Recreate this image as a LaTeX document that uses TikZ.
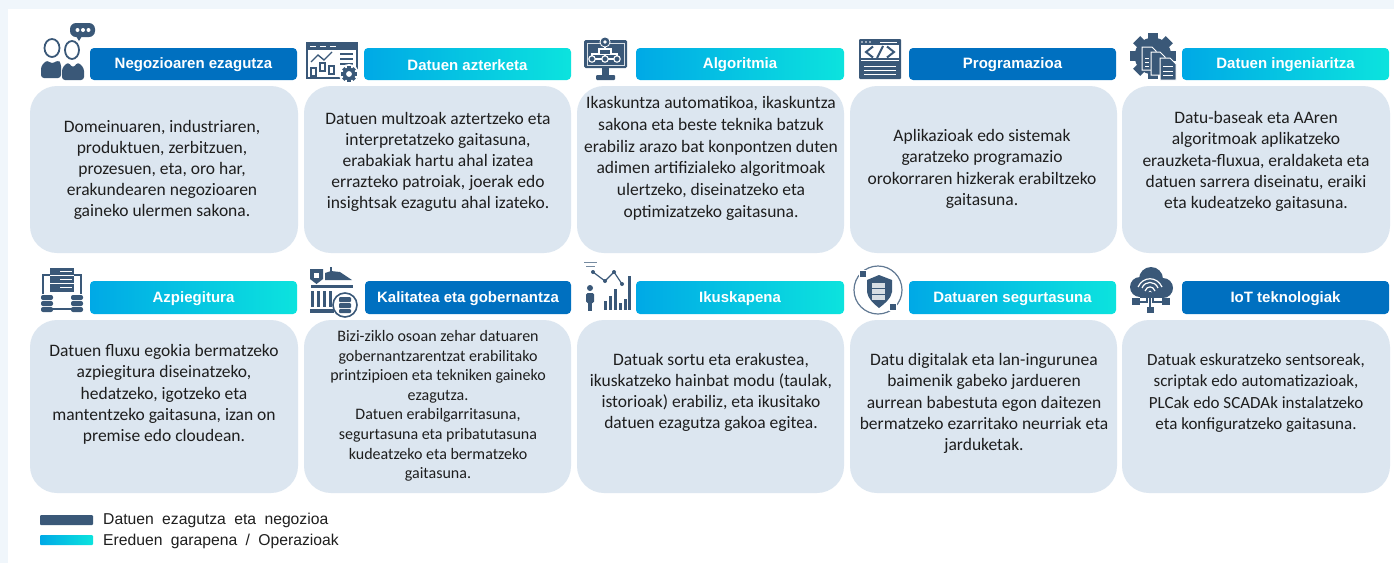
\documentclass[tikz,border=0pt]{standalone}
\usepackage{fontspec}
\setmainfont{Carlito}
\newfontfamily\hdfont{Liberation Sans}
\newcommand{\legsp}{\spaceskip=8.4pt\relax}
\definecolor{bgc}{HTML}{F0F6FB}
\definecolor{cardc}{HTML}{DCE6F0}
\definecolor{bluec}{HTML}{0070C0}
\definecolor{gradl}{HTML}{00A9E6}
\definecolor{gradr}{HTML}{0CE3DE}
\definecolor{ic}{HTML}{3A5878}
\definecolor{txtc}{HTML}{1E1E1E}
\tikzset{
  x=1pt,y=-1pt,
  cardbox/.style={fill=cardc,rounded corners=27pt},
  cardtext/.style={text=txtc,align=center,inner sep=0pt,font=\fontsize{17.5}{21.2}\selectfont},
  headsolid/.style={fill=bluec,rounded corners=4pt},
  headgrad/.style={left color=gradl,right color=gradr,rounded corners=4pt},
  legendtext/.style={anchor=west,text=txtc,inner sep=0pt,font=\hdfont\fontsize{15.7}{17}\selectfont},
}
% #1 node name, #2 x0, #3 y0, #4 x1, #5 y1, #6 style, #7 text
\newcommand{\headbox}[7]{%
  \path[#6] (#2,#3) rectangle (#4,#5);
  \node[text=white,inner sep=0pt,font=\hdfont\bfseries\fontsize{15}{16}\selectfont] (#1) at ({(#2+#4)/2},{(#3+#5)/2+1}) {#7};
}
% #1 cx #2 cy #3 outer radius #4 hole colour
\newcommand{\gearicon}[4]{%
  \foreach \a in {0,45,...,315}{\fill[ic,rotate around={\a:(#1,#2)}] ({#1-0.22*#3},#2) rectangle ({#1+0.22*#3},{#2-#3});}
  \fill[ic] (#1,#2) circle[radius={0.8*#3}];
  \fill[#4] (#1,#2) circle[radius={0.36*#3}];
}
\begin{document}
\begin{tikzpicture}
\useasboundingbox (0,0) rectangle (1394,563);
\fill[bgc] (0,0) rectangle (1394,563);
\fill[white] (8,9) rectangle (1394,563);

% cards row 1
\fill[cardbox] (30,86) rectangle (298,253);
\fill[cardbox] (304,86) rectangle (571,253);
\fill[cardbox] (577,86) rectangle (844,253);
\fill[cardbox] (850,86) rectangle (1117,253);
\fill[cardbox] (1122,86) rectangle (1390,253);
% cards row 2
\fill[cardbox] (30,320) rectangle (298,493);
\fill[cardbox] (304,320) rectangle (571,493);
\fill[cardbox] (577,320) rectangle (844,493);
\fill[cardbox] (850,320) rectangle (1117,493);
\fill[cardbox] (1122,320) rectangle (1390,493);

% card texts
\node[cardtext] (t1) at (162,170) {Domeinuaren, industriaren,\\produktuen, zerbitzuen,\\prozesuen, eta, oro har,\\erakundearen negozioaren\\gaineko ulermen sakona.};
\node[cardtext] (t2) at (438,162) {Datuen multzoak aztertzeko eta\\interpretatzeko gaitasuna,\\erabakiak hartu ahal izatea\\errazteko patroiak, joerak edo\\insightsak ezagutu ahal izateko.};
\node[cardtext,font=\fontsize{17.5}{21.8}\selectfont] (t3) at (711,158.5) {Ikaskuntza automatikoa, ikaskuntza\\sakona eta beste teknika batzuk\\erabiliz arazo bat konpontzen duten\\adimen artifizialeko algoritmoak\\ulertzeko, diseinatzeko eta\\optimizatzeko gaitasuna.};
\node[cardtext] (t4) at (982,169) {Aplikazioak edo sistemak\\garatzeko programazio\\orokorraren hizkerak erabiltzeko\\gaitasuna.};
\node[cardtext] (t5) at (1256,161.5) {Datu-baseak eta AAren\\algoritmoak aplikatzeko\\erauzketa-fluxua, eraldaketa eta\\datuen sarrera diseinatu, eraiki\\eta kudeatzeko gaitasuna.};
\node[cardtext] (t6) at (164,394.5) {Datuen fluxu egokia bermatzeko\\azpiegitura diseinatzeko,\\hedatzeko, igotzeko eta\\mantentzeko gaitasuna, izan on\\premise edo cloudean.};
\node[cardtext,font=\fontsize{16}{19.6}\selectfont] (t7) at (438,406) {Bizi-ziklo osoan zehar datuaren\\gobernantzarentzat erabilitako\\printzipioen eta tekniken gaineko\\ezagutza.\\Datuen erabilgarritasuna,\\segurtasuna eta pribatutasuna\\kudeatzeko eta bermatzeko\\gaitasuna.};
\node[cardtext] (t8) at (711,392.5) {Datuak sortu eta erakustea,\\ikuskatzeko hainbat modu (taulak,\\istorioak) erabiliz, eta ikusitako\\datuen ezagutza gakoa egitea.};
\node[cardtext] (t9) at (984,403.5) {Datu digitalak eta lan-ingurunea\\baimenik gabeko jardueren\\aurrean babestuta egon daitezen\\bermatzeko ezarritako neurriak eta\\jarduketak.};
\node[cardtext,font=\fontsize{17}{21.2}\selectfont] (t10) at (1256,393) {Datuak eskuratzeko sentsoreak,\\scriptak edo automatizazioak,\\PLCak edo SCADAk instalatzeko\\eta konfiguratzeko gaitasuna.};

% headers row 1
\headbox{h1}{90}{48}{297}{80}{headsolid}{Negozioaren ezagutza}
\headbox{h2}{364}{48}{571}{80}{headgrad}{Datuen azterketa}
\headbox{h3}{636}{48}{844}{80}{headgrad}{Algoritmia}
\headbox{h4}{909}{48}{1116}{80}{headsolid}{Programazioa}
\headbox{h5}{1182}{48}{1389}{80}{headgrad}{\raisebox{2pt}{Datuen ingeniaritza}}
% headers row 2
\headbox{h6}{90}{281}{297}{314}{headgrad}{Azpiegitura}
\headbox{h7}{365}{281}{571}{314}{headsolid}{Kalitatea eta gobernantza}
\headbox{h8}{636}{281}{844}{314}{headgrad}{Ikuskapena}
\headbox{h9}{909}{281}{1116}{314}{headgrad}{Datuaren segurtasuna}
\headbox{h10}{1182}{281}{1389}{314}{headsolid}{IoT teknologiak}

% icon 1: two people and speech bubble
\fill[ic,rounded corners=6pt] (70,23) rectangle (95,37);
\fill[ic] (76,36) -- (82,36) -- (79,41) -- cycle;
\foreach \dx in {77.5,83,88.5}{\fill[white] (\dx,30) circle[radius=2];}
\draw[ic,line width=1.8pt] (52,48) ellipse[x radius=7.5,y radius=9];
\draw[ic,line width=1.8pt] (72,50) ellipse[x radius=7,y radius=9];
\fill[ic,rounded corners=3pt] (41,78) -- (41,66) -- (47,60) -- (52,64) -- (58,60) -- (61,63) -- (61,78) -- cycle;
\fill[ic,rounded corners=3pt] (62,80) -- (62,68) -- (68,62) -- (73,68) -- (78,62) -- (84,68) -- (84,80) -- cycle;

% icon 2: analytics window with gear
\draw[ic,line width=1.4pt] (307,43) rectangle (357,78);
\fill[ic] (306,42) rectangle (358,50);
\foreach \dx in {310,320,330}{\draw[white,line width=.9pt] (\dx,46) -- ++(6,0);}
\draw[ic,line width=1.4pt] (311,62) -- (318,55) -- (324,60) -- (332,52);
\foreach \bx/\by in {311/68,320/63,329/66}{\draw[ic,line width=1.6pt] (\bx,\by) rectangle ++(5,8);}
\foreach \ly in {54,59,64}{\draw[ic,line width=1.4pt] (340,\ly) -- ++(13,0);}
\fill[white] (349,74) circle[radius=10];
\gearicon{349}{74}{8}{white}

% icon 3: monitor with network
\fill[ic,rounded corners=1.5pt] (584,40) rectangle (627,68);
\draw[white!80!ic,line width=.8pt] (587,43) rectangle (624,65);
\fill[ic] (602,68) rectangle (609,75);
\fill[ic,rounded corners=1pt] (596,75) rectangle (615,80);
\fill[white] (605,42) circle[radius=5.5];
\fill[ic] (605,42) circle[radius=4.5];
\fill[white] (605,42) circle[radius=1.8];
\draw[white,line width=1.1pt] (592,59) -- (592,54) -- (617,54) -- (617,59) (605,47) -- (605,59) (592,59) -- (617,59);
\foreach \nx in {592,605,617}{\filldraw[draw=white,fill=ic,line width=1.1pt] (\nx,59) circle[radius=3.2];}
\filldraw[draw=white,fill=ic,line width=1.1pt] (599,49) rectangle (611,54.5);

% icon 4: code window
\fill[ic,rounded corners=1pt] (859,39) rectangle (901,79);
\fill[white] (861,45) rectangle (899,77);
\fill[ic] (861,58) rectangle (899,77);
\draw[white,line width=.9pt] (880,42) -- (897,42);
\foreach \dx in {862,866,870}{\fill[white] (\dx,42) circle[radius=.8];}
\draw[ic,line width=2pt] (873,46.5) -- (866,52) -- (873,57.5) (887,46.5) -- (894,52) -- (887,57.5) (883,46) -- (877,58);
\fill[white] (861,60) rectangle (899,61.2);
\foreach \ly in {66,70,74}{\draw[white,line width=1pt] (864,\ly) -- (896,\ly);}

% icon 5: gear with documents
\gearicon{1153}{56}{23}{ic}
\filldraw[draw=white,fill=ic,line width=1pt] (1142,47) -- (1152,47) -- (1156,51) -- (1156,70) -- (1142,70) -- cycle;
\filldraw[draw=white,fill=ic,line width=1pt] (1151,52) -- (1160,52) -- (1165,57) -- (1165,75) -- (1151,75) -- cycle;
\filldraw[draw=white,fill=ic,line width=1pt] (1160,58) -- (1170,58) -- (1176,64) -- (1176,80) -- (1160,80) -- cycle;
\foreach \ly in {58,62,66}{\draw[white,line width=.8pt] (1145,\ly) -- (1149,\ly);}
\foreach \ly in {66,71,75}{\draw[white,line width=1pt] (1163,\ly) -- (1173,\ly);}

% icon 6: server with databases
\fill[ic] (50,268) rectangle (74,292);
\foreach \ly in {275.5,283.5}{\draw[white,line width=1.2pt] (50,\ly) -- (74,\ly);}
\foreach \ly in {271.5,279.5,287.5}{\draw[white,line width=1pt] (60,\ly) -- (72,\ly);}
\draw[ic,line width=1.2pt] (50,275) -- (43,275) -- (43,294) (74,275) -- (81,275) -- (81,294) (52,309) -- (72,309);
\foreach \dbx in {41,71}{
  \foreach \dby in {295,301,307}{\fill[ic,rounded corners=2pt] (\dbx,\dby) rectangle ++(12,5);}
}

% icon 7: institution and shield
\fill[ic] (310,269) -- (323,269) -- (323,279) -- (316.5,284) -- (310,279) -- cycle;
\fill[white] (314,273) rectangle (319,278);
\fill[ic] (325,280) -- (325,273) -- (331,271) -- (340,272) -- (352,280) -- cycle;
\draw[ic,line width=1.4pt] (331,267) -- (331,272);
\fill[ic] (311,284.5) rectangle (353,288);
\foreach \dx in {311,317,323,329}{\fill[ic] (\dx,291) rectangle ++(3.2,16);}
\fill[ic] (310,309) rectangle (334,313);
\filldraw[draw=ic,fill=white,line width=1.6pt] (345,305) circle[radius=12];
\fill[ic,rounded corners=1pt] (339,297) rectangle (351,302);
\fill[ic,rounded corners=1pt] (339,303) rectangle (351,308);
\fill[ic,rounded corners=1pt] (339,309) rectangle (351,313);

% icon 8: person and charts
\draw[ic!70,line width=1pt] (584,262) -- (597,262) (586,266) -- (595,266);
\fill[ic] (590,288) circle[radius=3];
\fill[ic,rounded corners=1.5pt] (586,293) rectangle (594,303);
\fill[ic] (588,300) rectangle (592,311);
\draw[ic,line width=1.2pt] (593,272) -- (605,281) -- (614,272) -- (622,284);
\foreach \px/\py in {593/272,605/281,614/272,622/284}{\fill[ic] (\px,\py) circle[radius=2];}
\fill[ic] (604,301) rectangle (607,310);
\fill[ic] (609,296) rectangle (612,310);
\fill[ic] (614,289) rectangle (617,310);
\fill[ic] (619,303) rectangle (622,310);
\fill[ic] (624,299) rectangle (627,310);
\fill[ic] (628,276) rectangle (631,310);

% icon 9: shield in ring
\draw[ic!80,line width=1.2pt] (878,290) circle[radius=24];
\filldraw[draw=white,fill=ic,line width=1.5pt] (859.5,270.5) rectangle ++(7,7);
\filldraw[draw=white,fill=ic,line width=1.5pt] (889.5,303.5) rectangle ++(7,7);
\fill[ic] (879,275) -- (867,280) -- (867,292) .. controls (868,299) and (874,304) .. (879,308) .. controls (884,304) and (891,299) .. (892,292) -- (892,280) -- cycle;
\foreach \ly in {283,289,295}{\fill[white!80!ic] (872,\ly) rectangle ++(13,4.6);}

% icon 10: cloud with wifi and network
\fill[ic] (1140,287) circle[radius=10];
\fill[ic] (1151,279) circle[radius=12];
\fill[ic] (1163,288) circle[radius=10];
\fill[ic] (1140,285) rectangle (1163,298);
\draw[white,line width=1.2pt] (1138,287) .. controls (1143,276) and (1157,276) .. (1162,287);
\draw[white,line width=1.2pt] (1142,288) .. controls (1145,280.5) and (1155,280.5) .. (1158,288);
\draw[white,line width=1.2pt] (1145,291) .. controls (1147,285.5) and (1153,285.5) .. (1155,291);
\fill[white] (1150,292) circle[radius=1.5];
\draw[ic,line width=1.2pt] (1150,292) -- (1150,309) (1147,297) -- (1147,302) -- (1139,302) (1153,297) -- (1153,302) -- (1163,302);
\fill[ic] (1132,298) rectangle ++(8,7);
\fill[ic] (1162,298) rectangle ++(8,7);
\fill[ic] (1146.5,307) rectangle ++(7,6);

% legend
\fill[fill=ic,rounded corners=1pt] (40,515) rectangle (93,525);
\path[left color=gradl,right color=gradr,rounded corners=1pt] (40,535) rectangle (93,545);
\node[legendtext] (l1) at (103,520.5) {\legsp Datuen ezagutza eta negozioa};
\node[legendtext] (l2) at (103,541) {\legsp Ereduen garapena / Operazioak};
\end{tikzpicture}
\end{document}
